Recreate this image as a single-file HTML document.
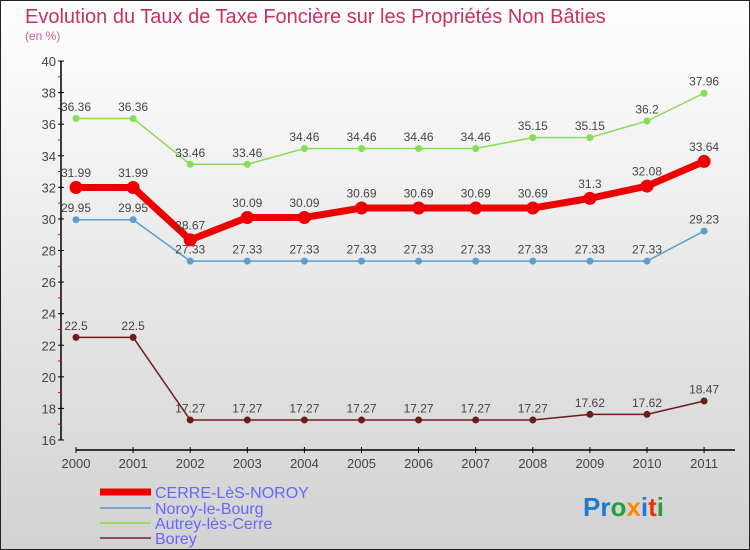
<!DOCTYPE html>
<html><head><meta charset="utf-8"><style>
body{margin:0}
#c{width:750px;height:550px;position:relative;overflow:hidden}
text{font-family:"Liberation Sans",sans-serif}
</style></head><body>
<div id="c">
<svg id="s" width="750" height="550" xmlns="http://www.w3.org/2000/svg">
<defs><linearGradient id="bg" x1="0" y1="0" x2="0" y2="1"><stop offset="0" stop-color="#ffffff"/><stop offset="1" stop-color="#d2d2d2"/></linearGradient></defs>
<rect x="0.5" y="0.5" width="749" height="549" fill="url(#bg)" stroke="#222"/>
<text x="25" y="23" font-size="20" fill="#c8325f">Evolution du Taux de Taxe Foncière sur les Propriétés Non Bâties</text>
<text x="25" y="40" font-size="12" fill="#c8609a">(en %)</text>
<g id="axes"></g><g id="series"></g>
<g>
<line x1="100" y1="492" x2="151" y2="492" stroke="#ee0000" stroke-width="7"/>
<text x="155" y="498" font-size="16" fill="#6666ff">CERRE-LèS-NOROY</text>
<line x1="100" y1="508" x2="151" y2="508" stroke="#6fa8d0" stroke-width="2"/>
<text x="155" y="514" font-size="16" fill="#6666ff">Noroy-le-Bourg</text>
<line x1="100" y1="523" x2="151" y2="523" stroke="#99dd66" stroke-width="2"/>
<text x="155" y="529" font-size="16" fill="#6666ff">Autrey-lès-Cerre</text>
<line x1="100" y1="538" x2="151" y2="538" stroke="#8b4f4f" stroke-width="2"/>
<text x="155" y="544" font-size="16" fill="#6666ff">Borey</text>
</g>
<g font-size="26" font-weight="bold">
<text x="583" y="516"><tspan fill="#1a7ad4">Pr</tspan><tspan fill="#22a040">o</tspan><tspan fill="#ff8800">x</tspan><tspan fill="#1a7ad4">i</tspan><tspan fill="#ee3300">t</tspan><tspan fill="#22a040">i</tspan></text>
</g>
</svg></div>
<script>
const years=["2000","2001","2002","2003","2004","2005","2006","2007","2008","2009","2010","2011"];
const cerre=[31.99,31.99,28.67,30.09,30.09,30.69,30.69,30.69,30.69,31.3,32.08,33.64];
const noroy=[29.95,29.95,27.33,27.33,27.33,27.33,27.33,27.33,27.33,27.33,27.33,29.23];
const autrey=[36.36,36.36,33.46,33.46,34.46,34.46,34.46,34.46,35.15,35.15,36.2,37.96];
const borey=[22.5,22.5,17.27,17.27,17.27,17.27,17.27,17.27,17.27,17.62,17.62,18.47];
const yTicks=[16,18,20,22,24,26,28,30,32,34,36,38,40];
const NS="http://www.w3.org/2000/svg";
const X=i=>76+i*57.1;
const Y=v=>440-(v-16)*(379/24);
function mk(p,t,a){const e=document.createElementNS(NS,t);for(const k in a)e.setAttribute(k,a[k]);p.appendChild(e);return e;}
const ax=document.getElementById('axes');
let l=mk(ax,'line',{x1:61,y1:Y(40),x2:61,y2:Y(16),stroke:'#000','stroke-width':1.5});


l=mk(ax,'line',{x1:X(0),y1:450,x2:735,y2:450,stroke:'#000','stroke-width':1.5});


yTicks.forEach((v,i)=>{
 mk(ax,'line',{x1:58,y1:Y(v),x2:64,y2:Y(v),stroke:'#000'});
 if(i<yTicks.length-1)mk(ax,'line',{x1:58,y1:Y(v+1),x2:61,y2:Y(v+1),stroke:'#e00'});
 const t=mk(ax,'text',{x:56,y:Y(v)+5,'font-size':13,'text-anchor':'end',fill:'#444'});
 t.textContent=v;
 
 
});
years.forEach((y,i)=>{
 mk(ax,'line',{x1:X(i),y1:447,x2:X(i),y2:453,stroke:'#000'});
 const t=mk(ax,'text',{x:X(i),y:468,'font-size':13,'text-anchor':'middle',fill:'#444'});
 t.textContent=y;
 
 
});
const sg=document.getElementById('series');
function draw(vals,col,w,r,name){
 const g=mk(sg,'g',{});
 
 
 const p=mk(g,'polyline',{points:vals.map((v,i)=>X(i)+','+Y(v)).join(' '),fill:'none',stroke:col,'stroke-width':w,'stroke-linejoin':'round'});
 
 
 vals.forEach((v,i)=>{
  const c=mk(g,'circle',{cx:X(i),cy:Y(v),r:r,fill:col});
  
  
  const t=mk(g,'text',{x:X(i),y:Y(v)-r-4,'font-size':12,'text-anchor':'middle',fill:'#444'});
  t.textContent=v;
  
  
 });
}
draw(borey,'#6b1c1c',1.5,3.5,'borey');
draw(noroy,'#5a9fd0',1.5,3.5,'noroy');
draw(autrey,'#88dd55',1.5,3.5,'autrey');
draw(cerre,'#ee0000',7,6.5,'cerre');
</script>
</body></html>
